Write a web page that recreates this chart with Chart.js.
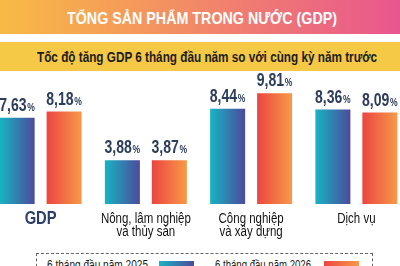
<!DOCTYPE html>
<html><head><meta charset="utf-8">
<script src="https://cdn.jsdelivr.net/npm/chart.js@4.4.1/dist/chart.umd.min.js"></script>
<style>
html,body{margin:0;padding:0;width:400px;height:266px;overflow:hidden;background:#fff;}
body{position:relative;font-family:"Liberation Sans",Arial,sans-serif;}
#title{position:absolute;left:0;top:0;width:400px;height:34px;
  background:linear-gradient(90deg,#f8ba46 0%,#f59d58 30%,#ef7874 65%,#e9568f 100%);}
#sub{position:absolute;left:0;top:42px;width:400px;height:29px;background:#f5c845;}
.txt{position:absolute;white-space:nowrap;transform-origin:0 50%;}
#titleText{top:2px;color:#fff;font-weight:bold;font-size:17px;line-height:34px;}
#subText{top:0;color:#1c1c1c;font-weight:bold;font-size:14px;line-height:30px;}
#wrap{position:absolute;left:-12px;top:72px;width:421px;height:180px;}
#legend{position:absolute;left:36px;top:253px;width:337px;height:30px;border:1px dashed #666;box-sizing:border-box;}
.lt{position:absolute;top:4px;font-size:13px;color:#1a1a1a;white-space:nowrap;line-height:14px;transform-origin:0 50%;}
.sw{position:absolute;top:7px;width:35px;height:20px;}
</style></head>
<body>
<div id="title"><span id="titleText" class="txt"></span></div>
<div id="sub"><span id="subText" class="txt"></span></div>
<div id="wrap"><canvas id="c"></canvas></div>
<div id="legend"></div>
<script>
const titleText = 'TỔNG SẢN PHẨM TRONG NƯỚC (GDP)';
const subtitleText = 'Tốc độ tăng GDP 6 tháng đầu năm so với cùng kỳ năm trước';
const categories = ['GDP', ['Nông, lâm nghiệp','và thủy sản'], ['Công nghiệp','và xây dựng'], 'Dịch vụ'];
const seriesNames = ['6 tháng đầu năm 2025', '6 tháng đầu năm 2026'];
const values2025 = [7.63, 3.88, 8.44, 8.36];
const values2026 = [8.18, 3.87, 9.81, 8.09];

const gradStops = [['#17b4c2','#4d4a9c'], ['#ec4541','#f69a47']];
const CP = 0.893, BP = 0.745, SX = 0.82;
const FONT = '"Liberation Sans",Arial,sans-serif';

// fit a text span horizontally (condensed look) into a given box
function fitText(el, left, width){
  const w = el.getBoundingClientRect().width;
  const s = width / w;
  el.style.left = left + 'px';
  el.style.transform = 'scaleX(' + s + ')';
}
const tEl = document.getElementById('titleText'); tEl.textContent = titleText; fitText(tEl, 67, 270);
const sEl = document.getElementById('subText'); sEl.textContent = subtitleText; fitText(sEl, 37, 340);

// legend
const leg = document.getElementById('legend');
const legPos = [[10,122,101],[178,287,96]];
seriesNames.forEach((n,i)=>{
  const t = document.createElement('div'); t.className='lt'; t.textContent=n; leg.appendChild(t);
  fitText(t, legPos[i][0], legPos[i][2]);
  const s = document.createElement('div'); s.className='sw'; s.style.left=legPos[i][1]+'px';
  s.style.background='linear-gradient(90deg,'+gradStops[i][0]+','+gradStops[i][1]+')'; leg.appendChild(s);
});

function barGradient(c){
  const chart = c.chart, xs = chart.scales.x;
  const stops = gradStops[c.datasetIndex];
  if (!xs || c.dataIndex === undefined || !isFinite(xs.width)) return stops[0];
  const cat = xs.width / categories.length;
  const slot = cat*CP/2;
  const cx = xs.getPixelForValue(c.dataIndex) + (c.datasetIndex - 0.5)*slot;
  const half = slot*BP/2;
  const g = chart.ctx.createLinearGradient(cx-half,0,cx+half,0);
  g.addColorStop(0,stops[0]); g.addColorStop(1,stops[1]);
  return g;
}

// draw x tick labels horizontally condensed
const condensedTicks = {
  id:'condensedTicks',
  beforeDraw(chart){
    const xs = chart.scales.x;
    if (!xs || xs._condensed) return;
    xs._condensed = true;
    const orig = xs.drawLabels.bind(xs);
    xs.drawLabels = function(area){
      const ctx = this.ctx;
      const of = CanvasRenderingContext2D.prototype.fillText;
      ctx.fillText = function(t,x,y){ this.save(); this.translate(x,y); this.scale(SX,1); of.call(this,t,0,0); this.restore(); };
      try { orig(area); } finally { delete ctx.fillText; }
    };
  }
};

const valueLabels = {
  id:'valueLabels',
  afterDatasetsDraw(chart){
    const ctx = chart.ctx;
    chart.data.datasets.forEach((ds,di)=>{
      chart.getDatasetMeta(di).data.forEach((el,i)=>{
        const num = ds.data[i].toFixed(2).replace('.',',');
        const big = 'bold 18px '+FONT, small = 'bold 11px '+FONT;
        ctx.save();
        ctx.font = big; const w1 = ctx.measureText(num).width;
        ctx.font = small; const w2 = ctx.measureText('%').width;
        const tw = (w1 + 1 + w2);
        ctx.translate(el.x, el.y - 7);
        ctx.scale(0.78, 1);
        ctx.textAlign='left'; ctx.textBaseline='alphabetic'; ctx.fillStyle='#2b3c5c';
        ctx.font = big; ctx.fillText(num, -tw/2, 0);
        ctx.font = small; ctx.fillText('%', -tw/2 + w1 + 1, 0);
        ctx.restore();
      });
    });
  }
};

new Chart(document.getElementById('c'), {
  type:'bar',
  data:{
    labels: categories,
    datasets:[
      {label:seriesNames[0], data:values2025, backgroundColor:barGradient, categoryPercentage:CP, barPercentage:BP, borderWidth:0},
      {label:seriesNames[1], data:values2026, backgroundColor:barGradient, categoryPercentage:CP, barPercentage:BP, borderWidth:0}
    ]
  },
  options:{
    responsive:true, maintainAspectRatio:false, animation:false,
    layout:{padding:{top:19,bottom:5,left:0,right:0}},
    plugins:{legend:{display:false}, tooltip:{enabled:false}},
    scales:{
      y:{display:false, min:0, max:10},
      x:{
        grid:{display:false, drawTicks:false}, border:{display:false},
        ticks:{
          padding:8, maxRotation:0, autoSkip:false,
          color:(c)=> c.index===0 ? '#2b3d6b' : '#111111',
          font:(c)=> c.index===0 ? {family:FONT, size:18, weight:'bold', lineHeight:'13.5px'} : {family:FONT, size:14, weight:'normal', lineHeight:'13.5px'}
        }
      }
    }
  },
  plugins:[condensedTicks, valueLabels]
});
</script>
</body></html>
